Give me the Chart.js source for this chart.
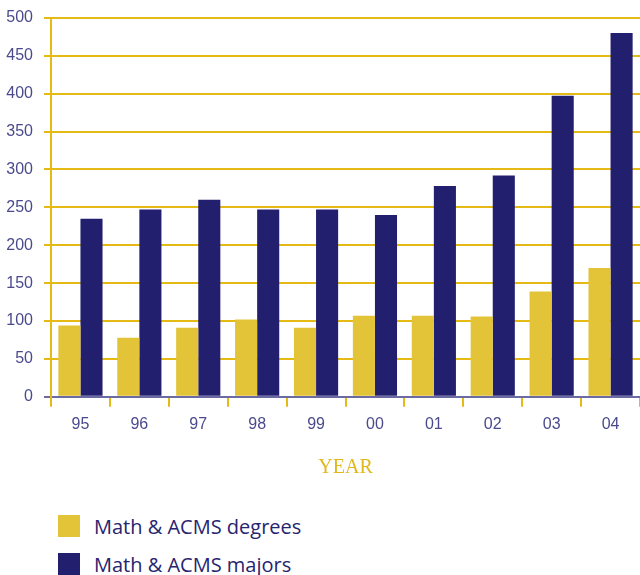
<!DOCTYPE html>
<html>
<head>
<meta charset="utf-8">
<script src="https://cdn.jsdelivr.net/npm/chart.js@4"></script>
<style>
  body { margin: 0; background: #fff; }
  #wrap { position: relative; width: 640px; height: 575px; overflow: hidden; }
  #chartBox { position: absolute; left: 0; top: 0; width: 640px; height: 490px; }
  #legend { position: absolute; left: 58px; top: 515px; }
  .item { display: flex; align-items: center; height: 22px; margin-bottom: 16px; }
  .swatch { width: 22px; height: 22px; margin-right: 14px; }
  .label { font-family: "Open Sans", sans-serif; font-size: 20px; color: #27246f; }
</style>
</head>
<body>
<div id="wrap">
  <div id="chartBox"><canvas id="yearChart"></canvas></div>
  <div id="legend"></div>
</div>
<script>
const years = ['95', '96', '97', '98', '99', '00', '01', '02', '03', '04'];
const degrees = [94, 78, 91, 102, 91, 107, 107, 106, 139, 170];
const majors = [235, 247, 260, 247, 247, 240, 278, 292, 397, 480];
const seriesNames = ['Math & ACMS degrees', 'Math & ACMS majors'];
const seriesColors = ['#e3c338', '#231f6f'];

const yellow = '#e6ba14';
const axisPurple = '#6b6aa2';
const tickText = '#4b4a8c';

function buildLegend() {
    const legend = document.getElementById('legend');
    seriesNames.forEach((name, i) => {
        const item = document.createElement('div');
        item.className = 'item';
        const sw = document.createElement('div');
        sw.className = 'swatch';
        sw.style.background = seriesColors[i];
        const txt = document.createElement('span');
        txt.className = 'label';
        txt.textContent = name;
        item.appendChild(sw);
        item.appendChild(txt);
        legend.appendChild(item);
    });
}

function initChart() {
    const ctx = document.getElementById('yearChart').getContext('2d');
    new Chart(ctx, {
        type: 'bar',
        data: {
            labels: years,
            datasets: [
                { label: seriesNames[0], data: degrees, backgroundColor: seriesColors[0] },
                { label: seriesNames[1], data: majors, backgroundColor: seriesColors[1] }
            ]
        },
        options: {
            responsive: true,
            maintainAspectRatio: false,
            animation: false,
            categoryPercentage: 0.75,
            barPercentage: 1.0,
            layout: { padding: { top: 3, right: 0, left: 6, bottom: 10 } },
            plugins: {
                legend: { display: false },
                tooltip: { enabled: false }
            },
            scales: {
                x: {
                    grid: {
                        drawOnChartArea: false,
                        drawTicks: true,
                        tickLength: 10,
                        color: yellow,
                        lineWidth: 2
                    },
                    border: { color: axisPurple, width: 2 },
                    ticks: {
                        color: tickText,
                        padding: 8,
                        font: { family: 'Liberation Sans', size: 16 }
                    },
                    title: {
                        display: true,
                        text: 'YEAR',
                        color: '#e0b81c',
                        font: { family: 'Liberation Serif', size: 20 },
                        padding: { top: 14, bottom: 0 }
                    }
                },
                y: {
                    min: 0,
                    max: 500,
                    afterFit: scale => { scale.width = 45; },
                    ticks: {
                        stepSize: 50,
                        color: tickText,
                        padding: 11,
                        font: { family: 'Liberation Sans', size: 16, lineHeight: 0.85 }
                    },
                    grid: {
                        tickLength: 7,
                        lineWidth: 2,
                        color: c => (c.tick && c.tick.value === 0) ? axisPurple : yellow
                    },
                    border: { color: yellow, width: 2 }
                }
            }
        }
    });
}

document.addEventListener('DOMContentLoaded', () => {
    buildLegend();
    initChart();
});
</script>
</body>
</html>
